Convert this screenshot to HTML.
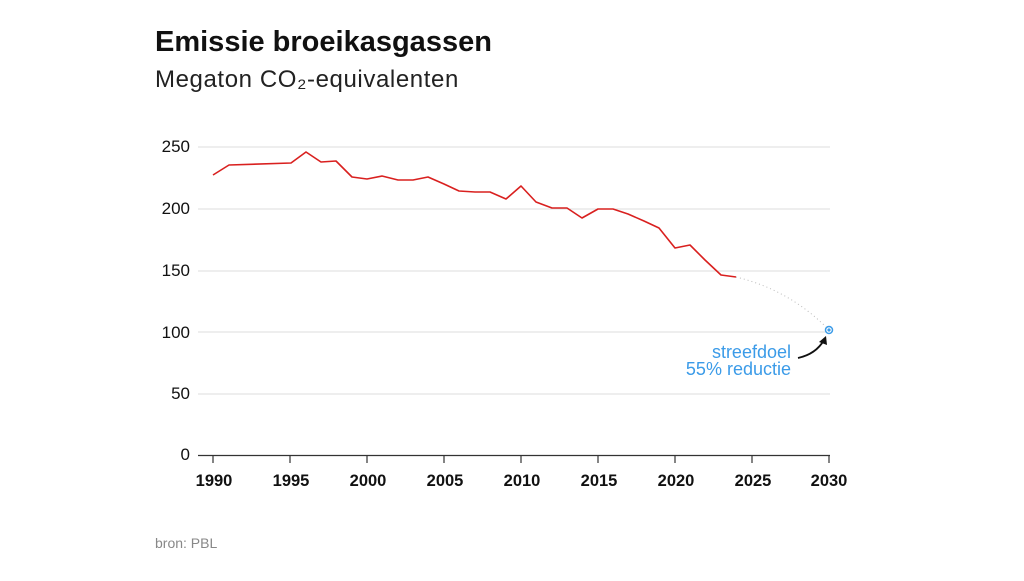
<!DOCTYPE html>
<html><head><meta charset="utf-8"><style>
body{margin:0;background:#fff;width:1024px;height:576px;overflow:hidden;font-family:"Liberation Sans",sans-serif}
</style></head><body>
<svg width="1024" height="576" xmlns="http://www.w3.org/2000/svg" font-family="Liberation Sans, sans-serif">
<text x="155" y="51" font-size="29" font-weight="bold" fill="#111">Emissie broeikasgassen</text>
<text x="155" y="87" font-size="24" fill="#222" letter-spacing="0.6">Megaton CO₂-equivalenten</text>
<g stroke="#ddd" stroke-width="1">
<line x1="198" y1="147" x2="830" y2="147"/><line x1="198" y1="209" x2="830" y2="209"/>
<line x1="198" y1="271" x2="830" y2="271"/><line x1="198" y1="332" x2="830" y2="332"/>
<line x1="198" y1="394" x2="830" y2="394"/></g>
<line x1="198" y1="455.5" x2="830" y2="455.5" stroke="#333" stroke-width="1.2"/>
<g stroke="#333" stroke-width="1.2">
<line x1="213" y1="455" x2="213" y2="463"/><line x1="290" y1="455" x2="290" y2="463"/>
<line x1="367" y1="455" x2="367" y2="463"/><line x1="444" y1="455" x2="444" y2="463"/>
<line x1="521" y1="455" x2="521" y2="463"/><line x1="598" y1="455" x2="598" y2="463"/>
<line x1="675" y1="455" x2="675" y2="463"/><line x1="752" y1="455" x2="752" y2="463"/>
<line x1="829" y1="455" x2="829" y2="463"/></g>
<g font-size="17" fill="#111" text-anchor="end">
<text x="190" y="152">250</text><text x="190" y="214">200</text><text x="190" y="276">150</text>
<text x="190" y="338">100</text><text x="190" y="399">50</text><text x="190" y="460">0</text></g>
<g font-size="16.5" font-weight="bold" fill="#111" text-anchor="middle">
<text x="214" y="486">1990</text><text x="291" y="486">1995</text><text x="368" y="486">2000</text>
<text x="445" y="486">2005</text><text x="522" y="486">2010</text><text x="599" y="486">2015</text>
<text x="676" y="486">2020</text><text x="753" y="486">2025</text><text x="829" y="486">2030</text></g>
<polyline fill="none" stroke="#d9201f" stroke-width="1.6" stroke-linejoin="round" points="213,175 229,165 291,163 306,152 321,162 336,161 352,177 367,179 382,176 398,180 413,180 428,177 444,184 459,191 475,192 490,192 506,199 521,186 536,202 552,208 567,208 582,218 598,209 613,209 628,214 644,221 659,228 675,248 690,245 705,260 721,275 736,277"/>
<path d="M736,277 Q790,290 829,330" fill="none" stroke="#bbb" stroke-width="1" stroke-dasharray="1,3"/>
<circle cx="829" cy="330" r="3.5" fill="#fff" stroke="#3b9be8" stroke-width="1.5"/>
<circle cx="829" cy="330" r="1.6" fill="#3b9be8"/>
<path d="M798,358 Q816,354 824,340" fill="none" stroke="#111" stroke-width="1.8"/>
<path d="M826,336 L819,342 L827,345 Z" fill="#111"/>
<g font-size="18" fill="#3b9be8" text-anchor="end">
<text x="791" y="358">streefdoel</text><text x="791" y="375">55% reductie</text></g>
<text x="155" y="548" font-size="14" fill="#888">bron: PBL</text>
</svg>
</body></html>
